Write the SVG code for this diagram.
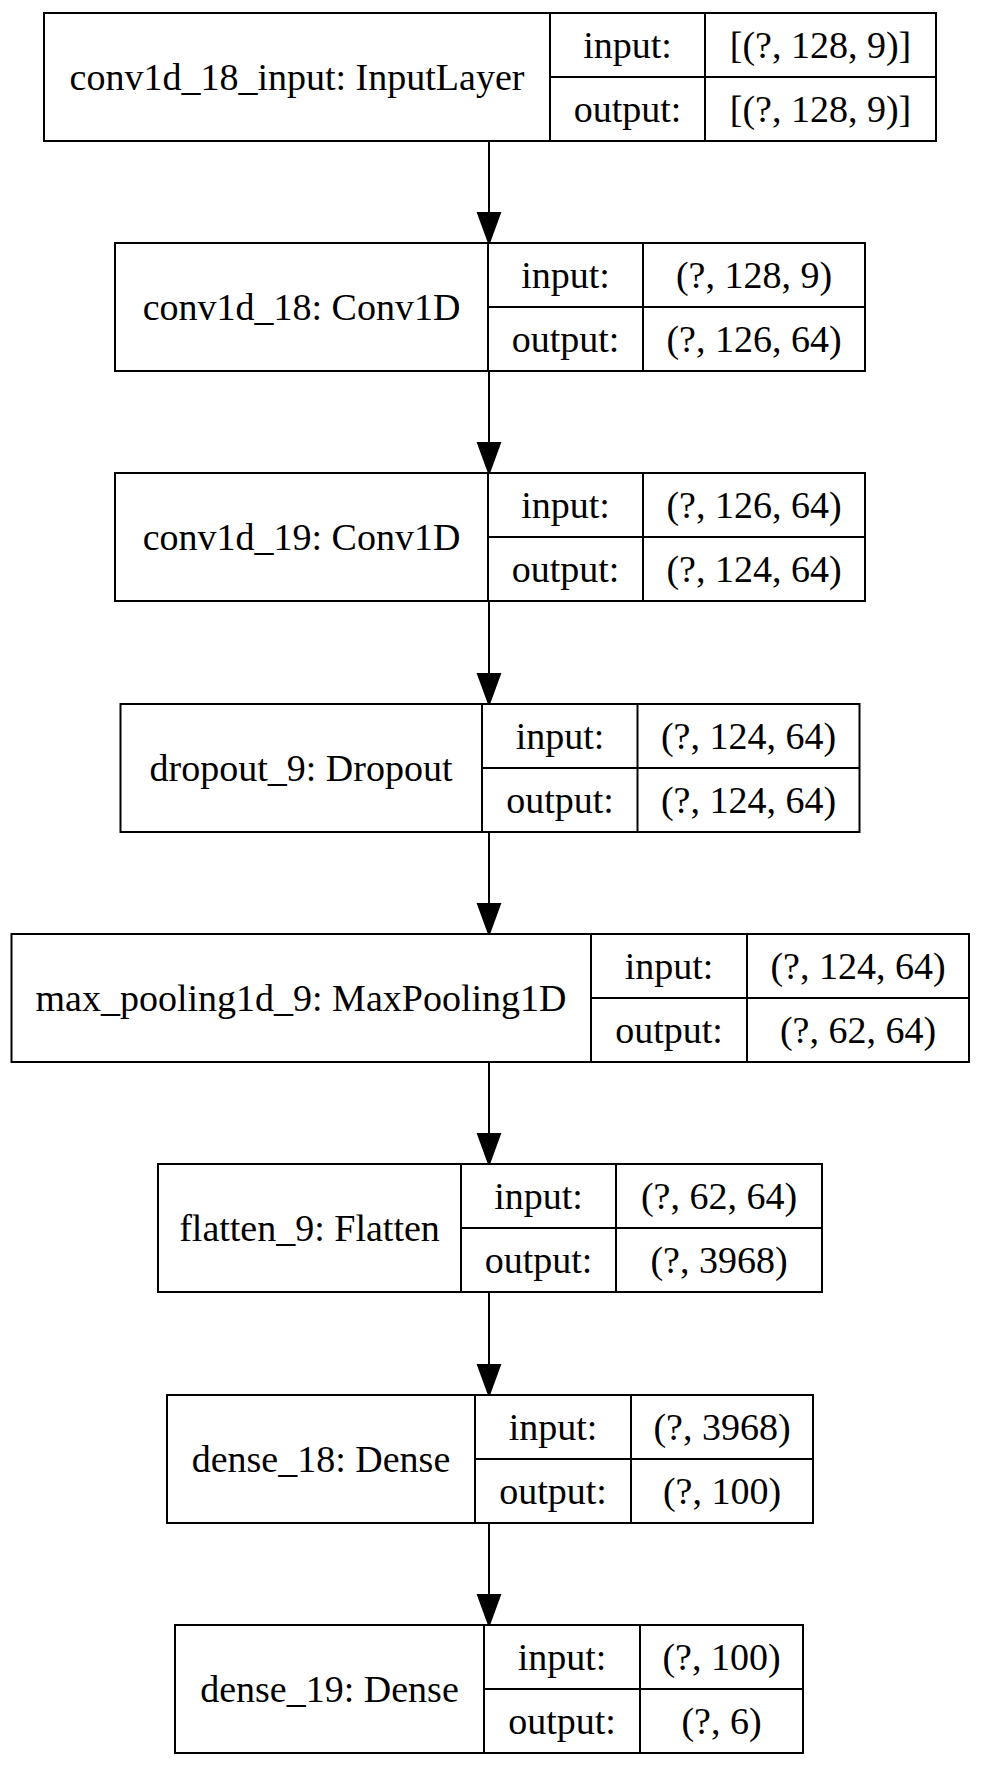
<svg xmlns="http://www.w3.org/2000/svg" width="981" height="1767" viewBox="0 0 981 1767">
<defs>
<style>
rect{fill:#fff;stroke:#000;stroke-width:2}
line{stroke:#000;stroke-width:2}
text{font-family:"Liberation Serif","Times New Roman",serif;font-size:38px;fill:#000;text-anchor:middle}
.e line{stroke:#000;stroke-width:2}
.e polygon{fill:#000;stroke:#000;stroke-width:2}
</style>
</defs>
<rect x="0" y="0" width="981" height="1767" style="fill:#fff;stroke:none"/>
<g class="e" id="edges">
<line x1="489" y1="141" x2="489" y2="213"/><polygon points="478,213 500,213 489,243"/>
<line x1="489" y1="371" x2="489" y2="443"/><polygon points="478,443 500,443 489,473"/>
<line x1="489" y1="601" x2="489" y2="674"/><polygon points="478,674 500,674 489,704"/>
<line x1="489" y1="832" x2="489" y2="904"/><polygon points="478,904 500,904 489,934"/>
<line x1="489" y1="1062" x2="489" y2="1134"/><polygon points="478,1134 500,1134 489,1164"/>
<line x1="489" y1="1292" x2="489" y2="1365"/><polygon points="478,1365 500,1365 489,1395"/>
<line x1="489" y1="1523" x2="489" y2="1595"/><polygon points="478,1595 500,1595 489,1625"/>
</g>
<g id="node1">
<rect x="44" y="13" width="892" height="128"/>
<line x1="550" y1="13" x2="550" y2="141"/><line x1="705" y1="13" x2="705" y2="141"/><line x1="550" y1="77" x2="936" y2="77"/>
<text x="297" y="90">conv1d_18_input: InputLayer</text>
<text x="627.5" y="58">input:</text><text x="820.5" y="58">[(?, 128, 9)]</text>
<text x="627.5" y="122">output:</text><text x="820.5" y="122">[(?, 128, 9)]</text>
</g>
<g id="node2">
<rect x="115" y="243" width="750" height="128"/>
<line x1="488" y1="243" x2="488" y2="371"/><line x1="643" y1="243" x2="643" y2="371"/><line x1="488" y1="307" x2="865" y2="307"/>
<text x="301.5" y="320">conv1d_18: Conv1D</text>
<text x="565.5" y="288">input:</text><text x="754" y="288">(?, 128, 9)</text>
<text x="565.5" y="352">output:</text><text x="754" y="352">(?, 126, 64)</text>
</g>
<g id="node3">
<rect x="115" y="473" width="750" height="128"/>
<line x1="488" y1="473" x2="488" y2="601"/><line x1="643" y1="473" x2="643" y2="601"/><line x1="488" y1="537" x2="865" y2="537"/>
<text x="301.5" y="550">conv1d_19: Conv1D</text>
<text x="565.5" y="518">input:</text><text x="754" y="518">(?, 126, 64)</text>
<text x="565.5" y="582">output:</text><text x="754" y="582">(?, 124, 64)</text>
</g>
<g id="node4">
<rect x="120.5" y="704" width="739" height="128"/>
<line x1="482" y1="704" x2="482" y2="832"/><line x1="637.5" y1="704" x2="637.5" y2="832"/><line x1="482" y1="768" x2="859.5" y2="768"/>
<text x="301" y="781">dropout_9: Dropout</text>
<text x="560" y="749">input:</text><text x="748.5" y="749">(?, 124, 64)</text>
<text x="560" y="813">output:</text><text x="748.5" y="813">(?, 124, 64)</text>
</g>
<g id="node5">
<rect x="11.5" y="934" width="957.5" height="128"/>
<line x1="591" y1="934" x2="591" y2="1062"/><line x1="747" y1="934" x2="747" y2="1062"/><line x1="591" y1="998" x2="969" y2="998"/>
<text x="301" y="1011">max_pooling1d_9: MaxPooling1D</text>
<text x="669" y="979">input:</text><text x="858" y="979">(?, 124, 64)</text>
<text x="669" y="1043">output:</text><text x="858" y="1043">(?, 62, 64)</text>
</g>
<g id="node6">
<rect x="158" y="1164" width="664" height="128"/>
<line x1="461" y1="1164" x2="461" y2="1292"/><line x1="616" y1="1164" x2="616" y2="1292"/><line x1="461" y1="1228" x2="822" y2="1228"/>
<text x="309.5" y="1241">flatten_9: Flatten</text>
<text x="538.5" y="1209">input:</text><text x="719" y="1209">(?, 62, 64)</text>
<text x="538.5" y="1273">output:</text><text x="719" y="1273">(?, 3968)</text>
</g>
<g id="node7">
<rect x="167" y="1395" width="646" height="128"/>
<line x1="475" y1="1395" x2="475" y2="1523"/><line x1="631" y1="1395" x2="631" y2="1523"/><line x1="475" y1="1459" x2="813" y2="1459"/>
<text x="321" y="1472">dense_18: Dense</text>
<text x="553" y="1440">input:</text><text x="722" y="1440">(?, 3968)</text>
<text x="553" y="1504">output:</text><text x="722" y="1504">(?, 100)</text>
</g>
<g id="node8">
<rect x="175" y="1625" width="628" height="128"/>
<line x1="484" y1="1625" x2="484" y2="1753"/><line x1="640" y1="1625" x2="640" y2="1753"/><line x1="484" y1="1689" x2="803" y2="1689"/>
<text x="329.5" y="1702">dense_19: Dense</text>
<text x="562" y="1670">input:</text><text x="721.5" y="1670">(?, 100)</text>
<text x="562" y="1734">output:</text><text x="721.5" y="1734">(?, 6)</text>
</g>
</svg>
